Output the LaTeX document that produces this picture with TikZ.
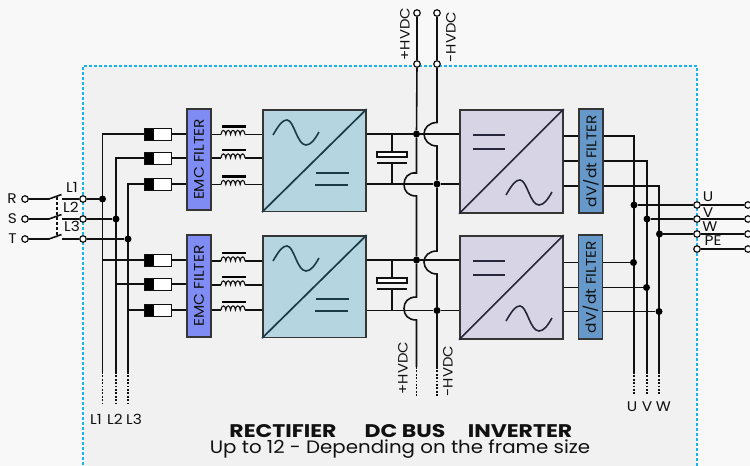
\documentclass[tikz,border=0pt]{standalone}
\usepackage{fontspec}
\setmainfont[FakeStretch=1.1]{Poppins}
\newfontfamily\headfont[FakeStretch=1.2]{Poppins}
\usetikzlibrary{calc}
\pgfdeclarelayer{wires}
\pgfdeclarelayer{back}
\pgfsetlayers{back,wires,main}
\definecolor{outerbg}{HTML}{F8F8F8}
\definecolor{innerbg}{HTML}{F1F1F1}
\definecolor{cyanline}{HTML}{19B5EA}
\definecolor{inkk}{HTML}{111111}
\definecolor{emcfill}{HTML}{7F8CF3}
\definecolor{dvfill}{HTML}{6699C9}
\definecolor{recfill}{HTML}{B5D6E0}
\definecolor{invfill}{HTML}{D7D5E5}
\definecolor{recink}{HTML}{1A3A48}
\definecolor{invink}{HTML}{26263C}
\tikzset{
  x=1pt,y=-1pt,
  wire/.style={draw=inkk,line width=1.6pt},
  dotwire/.style={draw=inkk,line width=1.6pt,dash pattern=on 1.7pt off 1.7pt},
  term/.style={circle,draw=inkk,fill=white,line width=1.2pt,minimum size=6.5pt,inner sep=0pt},
  junction/.style={circle,fill=black,minimum size=7pt,inner sep=0pt},
  filterbox/.style={rectangle,draw=inkk!85,line width=1.5pt,minimum height=24pt,inner sep=0pt,rotate=90,font=\fontsize{14}{14}\selectfont,text=inkk},
  fuse/.style={rectangle,draw=inkk,fill=white,line width=.9pt,minimum width=27pt,minimum height=12pt,inner sep=0pt,
     path picture={\fill[black] (path picture bounding box.north west) rectangle ([xshift=10pt]path picture bounding box.south west);}},
  conv/.style={rectangle,draw=inkk!85,line width=1.7pt,inner sep=0pt},
  lab/.style={font=\fontsize{14}{14}\selectfont,inner sep=0pt,text=inkk},
  vlab/.style={font=\fontsize{13.5}{13.5}\selectfont,inner sep=0pt,rotate=90,text=inkk},
  headlab/.style={font=\headfont\fontsize{18.3}{18.3}\selectfont\bfseries,text=inkk,inner sep=0pt},
  symb/.style={line width=2.2pt}
}
\newcommand{\coilat}[3]{% name, x, y
  \coordinate (#1w) at (#2,#3);
  \coordinate (#1e) at ({#2+24},#3);
  \draw[draw=inkk,line width=1.1pt] (#2,#3)
     .. controls ({#2+.5},{#3-5.5}) and ({#2+4.3},{#3-5.5}) .. ({#2+4.8},#3)
     .. controls ({#2+5.3},{#3-5.5}) and ({#2+9.1},{#3-5.5}) .. ({#2+9.6},#3)
     .. controls ({#2+10.1},{#3-5.5}) and ({#2+13.9},{#3-5.5}) .. ({#2+14.4},#3)
     .. controls ({#2+14.9},{#3-5.5}) and ({#2+18.7},{#3-5.5}) .. ({#2+19.2},#3)
     .. controls ({#2+19.7},{#3-5.5}) and ({#2+23.5},{#3-5.5}) .. ({#2+24},#3);
  \fill[black] ({#2+.5},{#3-9.5}) rectangle ({#2+24.5},{#3-7});
}
\begin{document}
\begin{tikzpicture}
\useasboundingbox (0,0) rectangle (750,466);
\begin{pgfonlayer}{back}
  \fill[outerbg] (0,0) rectangle (750,466);
  \fill[innerbg] (83,66) rectangle (697,466);
  \draw[cyanline,line width=1.5pt,dash pattern=on 3pt off 2pt] (83,470) -- (83,66) -- (697,66) -- (697,470);
\end{pgfonlayer}

% input terminals
\foreach \n/\t/\y/\lx/\ly/\ll in {a/R/199/72/187/L1,b/S/219/71/207/L2,c/T/239/72/226/L3}{
  \node[term] (in\n) at (25,\y) {};
  \node[term] (out\n) at (83,\y) {};
  \coordinate (swa\n) at (49,\y);
  \coordinate (swb\n) at (61.5,\y-4.5);
  \coordinate (swc\n) at (62,\y);
  \node[lab,anchor=east] (name\n) at (17,\y) {\t};
  \node[lab] (lab\n) at (\lx,\ly) {\ll};
}
% fuses, EMC, coils
\foreach \n/\y in {1/134,2/158,3/184,4/260,5/284,6/310}{
  \node[fuse] (f\n) at (157.5,\y) {};
}
\foreach \n/\y in {1/134.5,2/158,3/184.5,4/261,5/285,6/310}{
  \coilat{k\n}{221}{\y}
}
\node[filterbox,fill=emcfill,minimum width=101pt] (emca) at (199,159.5) {EMC FILTER};
\node[filterbox,fill=emcfill,minimum width=102pt] (emcb) at (199,286) {EMC FILTER};
\node[filterbox,fill=dvfill,minimum width=104pt] (dva) at (591,161) {dV/dt FILTER};
\node[filterbox,fill=dvfill,minimum width=104pt] (dvb) at (590.5,287) {dV/dt FILTER};

% converters
\foreach \n/\y in {a/109,b/235}{
  \begin{scope}[shift={(262,\y)}]
    \node[conv,fill=recfill,minimum width=103pt,minimum height=101.5pt,anchor=north west] (rec\n) at (0,0) {};
    \draw[recink,line width=1.7pt] (rec\n.south west) -- (rec\n.north east);
    \draw[recink,line width=1.6pt] (11,26) .. controls (18,14) and (21,11) .. (25,11)
       .. controls (32,11) and (35,36) .. (44,36) .. controls (49,36) and (53,30) .. (57,23);
    \draw[recink,symb] (54,64) -- (87,64) (53,76) -- (86,76);
  \end{scope}
}
\foreach \n/\y in {a/109,b/235}{
  \begin{scope}[shift={(459,\y)}]
    \node[conv,fill=invfill,minimum width=103pt,minimum height=103pt,anchor=north west] (inv\n) at (0,0) {};
    \draw[invink,line width=1.7pt] (inv\n.south west) -- (inv\n.north east);
    \draw[invink,line width=1.6pt] (47,86) .. controls (54,74) and (57,71) .. (61,71)
       .. controls (68,71) and (71,96) .. (80,96) .. controls (85,96) and (89,90) .. (93,83);
    \draw[invink,symb] (14,26) -- (46,26) (14,40) -- (46,40);
  \end{scope}
}

% DC bus terminals, junctions
\node[term] (pt) at (417,13) {};
\node[term] (nt) at (437,13) {};
\node[term] (pm) at (417,64) {};
\node[term] (nm) at (437,64) {};
\node[junction] (ja) at (416.5,134) {};
\node[junction] (jb) at (437,184) {};
\node[junction] (jc) at (416.5,260) {};
\node[junction] (jd) at (437,310.5) {};
\coordinate (pend) at (416.5,367);
\coordinate (pdot) at (416.5,396);
\coordinate (nend) at (437,367);
\coordinate (ndot) at (437,396);
\node[vlab] (hp) at (405,34) {+HVDC};
\node[vlab] (hn) at (451,37) {-HVDC};
\node[vlab] (hpl) at (403,368) {+HVDC};
\node[vlab] (hnl) at (448,371) {-HVDC};

% capacitors
\foreach \n/\ya/\yb in {a/134/184,b/260/310.5}{
  \coordinate (captop\n) at (392,\ya);
  \coordinate (capbot\n) at (392,\yb);
}
\node[rectangle,draw=inkk,fill=white,line width=1.2pt,minimum width=30pt,minimum height=5pt,inner sep=0pt] (capa) at (392,154.5) {};
\node[rectangle,draw=inkk,fill=white,line width=1.2pt,minimum width=30pt,minimum height=5pt,inner sep=0pt] (capb) at (392,280.5) {};
\coordinate (platea) at (392,163);
\coordinate (plateb) at (392,289);

% output junctions and terminals
\foreach \n/\y in {u/205,v/219,w/234,p/249}{
  \node[term] (ol\n) at (697,\y) {};
  \node[term] (or\n) at (748,\y) {};
}
\node[junction] (ju) at (634,205) {};
\node[junction] (jv) at (647,219) {};
\node[junction] (jw) at (659.5,234) {};
\node[junction] (lu) at (633.5,262.5) {};
\node[junction] (lv) at (646.5,287.5) {};
\node[junction] (lw) at (659,311.5) {};
\node[junction] (ja1) at (102.5,199) {};
\node[junction] (jb1) at (116,219) {};
\node[junction] (jc1) at (128,239) {};
\node[lab] (lu1) at (708,197) {U};
\node[lab] (lv1) at (708,212.5) {V};
\node[lab] (lw1) at (710,227) {W};
\node[lab] (lp1) at (713,241) {PE};

% bottom labels
\foreach \n/\x/\t in {1/102.5/L1,2/116/L2,3/128/L3}{
  \coordinate (be\n) at (\x,372);
  \coordinate (bd\n) at (\x,403);
}
\node[lab] (bl1) at (96,419) {L1};
\node[lab] (bl2) at (115,419) {L2};
\node[lab] (bl3) at (134,419) {L3};
\foreach \n/\x in {4/634,5/647,6/659}{
  \coordinate (be\n) at (\x,372);
  \coordinate (bd\n) at (\x,395);
}
\node[lab] (bu) at (632,407) {U};
\node[lab] (bv) at (647,407) {V};
\node[lab] (bw) at (663.5,407) {W};

\node[headlab] (t1) at (283,431) {RECTIFIER};
\node[headlab] (t2) at (405,431) {DC BUS};
\node[headlab] (t3) at (520,431) {INVERTER};
\node[font=\fontsize{18}{18}\selectfont,text=inkk,inner sep=0pt] (t4) at (400,449) {Up to 12 - Depending on the frame size};

\begin{pgfonlayer}{wires}
  % input side
  \foreach \n/\j in {a/ja1,b/jb1,c/jc1}{
    \draw[wire] (in\n) -- (swa\n) -- (swb\n);
    \draw[wire] (swc\n) -- (out\n) -- (\j);
  }
  \draw[inkk,line width=1.1pt,dash pattern=on 3pt off 2pt] (57,197) -- (57,237);
  % verticals
  \draw[wire] (f1.west) -- (be1 |- f1.west) -- (be1);
  \draw[wire] (f2.west) -- (be2 |- f2.west) -- (be2);
  \draw[wire] (f3.west) -- (be3 |- f3.west) -- (be3);
  \draw[wire] (f4.west) -- (be1 |- f4.west);
  \draw[wire] (f5.west) -- (be2 |- f5.west);
  \draw[wire] (f6.west) -- (be3 |- f6.west);
  \draw[dotwire] (be1) -- (bd1);
  \draw[dotwire] (be2) -- (bd2);
  \draw[dotwire] (be3) -- (bd3);
  % fuse to filter and through coil to converter
  \foreach \n/\fl/\rr in {1/emca/reca,2/emca/reca,3/emca/reca,4/emcb/recb,5/emcb/recb,6/emcb/recb}{
    \draw[wire] (f\n.east) -- (\fl.north |- f\n.east);
    \draw[wire] (\fl.south |- k\n w) -- (k\n w);
    \draw[wire] (k\n e) -- (\rr.west |- k\n e);
  }
  % DC bus rails
  \draw[wire] (reca.east |- 0,134) -- (ja) -- (inva.west |- ja);
  \draw[wire] (reca.east |- 0,184) -- (jb) -- (inva.west |- jb);
  \draw[wire] (recb.east |- 0,260) -- (jc) -- (invb.west |- jc);
  \draw[wire] (recb.east |- 0,310.5) -- (jd) -- (invb.west |- jd);
  \draw[wire] (pt) -- (pm) -- (ja) -- (416.5,173) .. controls (408,172) and (404,178) .. (404,184.5)
     .. controls (404,191) and (408,196) .. (416.5,196) -- (jc) -- (416.5,297)
     .. controls (408,297) and (404,302) .. (404,308.5) .. controls (404,315) and (408,320) .. (416.5,320) -- (pend);
  \draw[wire] (nt) -- (nm) -- (437,122.5) .. controls (429,122.5) and (424,128) .. (424,134)
     .. controls (424,140) and (429,146) .. (437,146) -- (jb) -- (437,251)
     .. controls (429,251) and (424,256) .. (424,262) .. controls (424,268) and (429,274) .. (437,274) -- (jd) -- (nend);
  \draw[dotwire] (pend) -- (pdot);
  \draw[dotwire] (nend) -- (ndot);
  % capacitors
  \draw[wire] (captopa) -- (capa.north);
  \draw[wire] (capbota) -- (platea);
  \draw[inkk,line width=1.5pt] (377,163) -- (407,163);
  \draw[wire] (captopb) -- (capb.north);
  \draw[wire] (capbotb) -- (plateb);
  \draw[inkk,line width=1.5pt] (377,289) -- (407,289);
  % inverter to filters
  \draw[wire] (inva.east |- 0,136) -- (dva.north |- 0,136);
  \draw[wire] (inva.east |- 0,161) -- (dva.north |- 0,161);
  \draw[wire] (inva.east |- 0,186) -- (dva.north |- 0,186);
  \draw[wire] (invb.east |- lu) -- (lu);
  \draw[wire] (invb.east |- lv) -- (lv);
  \draw[wire] (invb.east |- lw) -- (lw);
  % output busbars
  \draw[wire] (dva.south |- 0,136) -- (be4 |- 0,136) -- (be4);
  \draw[wire] (dva.south |- 0,161) -- (be5 |- 0,161) -- (be5);
  \draw[wire] (dva.south |- 0,186) -- (be6 |- 0,186) -- (be6);
  \draw[dotwire] (be4) -- (bd4);
  \draw[dotwire] (be5) -- (bd5);
  \draw[dotwire] (be6) -- (bd6);
  \draw[wire] (ju) -- (olu) -- (oru);
  \draw[wire] (jv) -- (olv) -- (orv);
  \draw[wire] (jw) -- (olw) -- (orw);
  \draw[wire] (olp) -- (orp);
\end{pgfonlayer}
\end{tikzpicture}
\end{document}
